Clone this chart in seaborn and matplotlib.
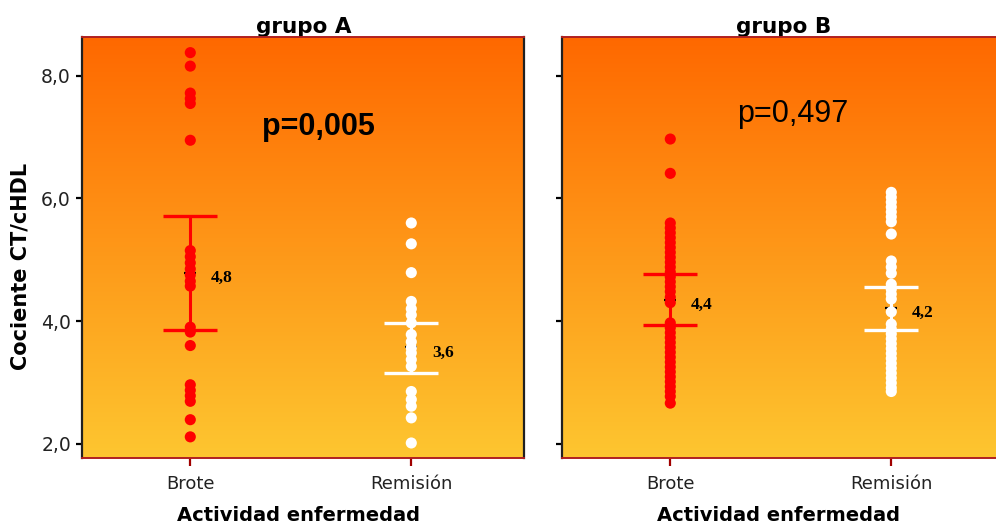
import os
import numpy as np
import pandas as pd
import matplotlib
matplotlib.use("Agg")
import matplotlib.pyplot as plt
from matplotlib import font_manager
from matplotlib.colors import LinearSegmentedColormap
import seaborn as sns

# ---------------- data ----------------
categorias = ["Brote", "Remisión"]
grupos = ["grupo A", "grupo B"]

a_brote = [8.38, 8.16, 7.72, 7.63, 7.55, 6.95, 5.15, 5.05, 4.95, 4.85, 4.75,
           4.65, 4.57, 3.90, 3.82, 3.60, 2.96, 2.87, 2.78, 2.69, 2.39, 2.11]
a_remision = [5.60, 5.26, 4.79, 4.32, 4.20, 4.10, 3.97, 3.78, 3.66, 3.56, 3.48,
              3.37, 3.26, 2.85, 2.72, 2.61, 2.42, 2.01]
b_brote = [6.97, 6.41, 5.60, 5.52, 5.44, 5.36, 5.28, 5.20, 5.12, 5.04, 4.96,
           4.88, 4.80, 4.72, 4.64, 4.56, 4.48, 4.39, 4.30, 3.97, 3.89, 3.81,
           3.73, 3.65, 3.57, 3.49, 3.41, 3.33, 3.25, 3.17, 3.09, 3.01, 2.93,
           2.85, 2.77, 2.66]
b_remision = [6.10, 6.02, 5.94, 5.86, 5.78, 5.70, 5.62, 5.42, 4.98, 4.88, 4.78,
              4.60, 4.52, 4.44, 4.36, 4.15, 3.95, 3.87, 3.79, 3.71, 3.63, 3.55,
              3.47, 3.39, 3.31, 3.23, 3.15, 3.07, 2.99, 2.91, 2.85]

# mean and 95% CI per group/category (A-Brote, A-Remision, B-Brote, B-Remision)
medias = [4.79, 3.57, 4.35, 4.22]
ic_inf = [3.85, 3.16, 3.94, 3.85]
ic_sup = [5.72, 3.97, 4.76, 4.56]
etiquetas_media = ["4,8", "3,6", "4,4", "4,2"]

p_valores = ["p=0,005", "p=0,497"]
ytick_vals = [2, 4, 6, 8]
ytick_labels = ["2,0", "4,0", "6,0", "8,0"]

# ---------------- fonts ----------------
def font_by_file(fname_end, fallback_family, weight):
    for f in font_manager.fontManager.ttflist:
        if os.path.basename(f.fname).lower() == fname_end.lower():
            return font_manager.FontProperties(fname=f.fname)
    return font_manager.FontProperties(family=fallback_family, weight=weight)

fp_p = [font_by_file("LiberationSans-Bold.ttf", "Liberation Sans", "bold"),
        font_by_file("LiberationSans-Regular.ttf", "Liberation Sans", "normal")]

# ---------------- figure ----------------
sns.set_theme(style="white")
plt.rcParams["font.family"] = ["DejaVu Sans"]

colores = {"Brote": "#FF0000", "Remisión": "#FFFFFF"}

fig = plt.figure(figsize=(9.96, 5.24), dpi=100)
W, H = 996.0, 524.0
ax_bottom = (H - 458.3) / H
ax_h = 421.6 / H
ax_w = 442.0 / W
axes = [fig.add_axes([82 / W, ax_bottom, ax_w, ax_h]),
        fig.add_axes([562 / W, ax_bottom, ax_w, ax_h])]

cmap = LinearSegmentedColormap.from_list("bg", ["#FDC630", "#FF6800"])
grad = np.linspace(0, 1, 256).reshape(-1, 1)

datos = [(a_brote, a_remision), (b_brote, b_remision)]
p_pos = [(0.535, 0.767), (0.5215, 0.798)]
title_x = [303.5 / W, 784 / W]
xlabel_x = [298 / W, 778 / W]

for g, ax in enumerate(axes):
    brote, remision = datos[g]
    df = pd.DataFrame({
        "actividad": ["Brote"] * len(brote) + ["Remisión"] * len(remision),
        "valor": brote + remision,
    })
    ax.imshow(grad, extent=[0, 1, 0, 1], transform=ax.transAxes,
              aspect="auto", cmap=cmap, origin="lower", zorder=0)

    # mean markers (under the points)
    for i in range(2):
        k = g * 2 + i
        ax.plot([i], [medias[k]], marker="_", markersize=9, mew=1.6,
                color="black", zorder=1.5, linestyle="none")

    sns.stripplot(data=df, x="actividad", y="valor", hue="actividad",
                  order=categorias, hue_order=categorias, palette=colores,
                  jitter=False, size=8, linewidth=0, legend=False,
                  ax=ax, zorder=2)

    for i, cat in enumerate(categorias):
        k = g * 2 + i
        ax.errorbar([i], [medias[k]],
                    yerr=[[medias[k] - ic_inf[k]], [ic_sup[k] - medias[k]]],
                    fmt="none", ecolor=colores[cat], elinewidth=2.2,
                    capsize=19.5, capthick=2.4, zorder=3)
        ax.annotate(etiquetas_media[k], xy=(i, medias[k]),
                    xytext=(15, -4), textcoords="offset points",
                    ha="left", va="center", fontsize=12.5,
                    fontweight="bold", family="Liberation Serif",
                    color="black", zorder=4)

    px, py = p_pos[g]
    t = ax.text(px, py, p_valores[g], transform=ax.transAxes, ha="center",
                va="baseline", color="black", zorder=5,
                fontproperties=fp_p[g])
    t.set_fontsize(22)

    ax.set_xlim(-0.49, 1.51)
    ax.set_ylim(1.76, 8.64)
    ax.set_yticks(ytick_vals)
    ax.set_yticklabels(ytick_labels)
    ax.set_xlabel("")
    ax.set_ylabel("")
    ax.grid(False)

    for side in ["left", "right"]:
        ax.spines[side].set_color("#202020")
        ax.spines[side].set_linewidth(1.6)
    for side in ["top", "bottom"]:
        ax.spines[side].set_color("#B02020")
        ax.spines[side].set_linewidth(1.4)

    ax.tick_params(axis="y", left=True, length=4.5, width=1.6, color="black",
                   labelsize=13.5, pad=3.5, labelcolor="#222222")
    ax.tick_params(axis="x", bottom=True, length=5.8, width=1.6,
                   color="#A00000", labelsize=13, pad=6.5,
                   labelcolor="#222222")
    if g == 1:
        ax.tick_params(axis="y", labelleft=False)

    fig.text(title_x[g], (H - 33.3) / H, grupos[g], ha="center",
             va="baseline", fontsize=15.5, fontweight="bold",
             color="black", zorder=-1)
    fig.text(xlabel_x[g], (H - 521) / H, "Actividad enfermedad", ha="center",
             va="baseline", fontsize=14, fontweight="bold", color="black")

fig.text(21 / W, (H - 266) / H, "Cociente CT/cHDL", rotation=90,
         ha="center", va="center", fontsize=15, fontweight="bold",
         color="black")

fig.savefig("out.png", dpi=100)
